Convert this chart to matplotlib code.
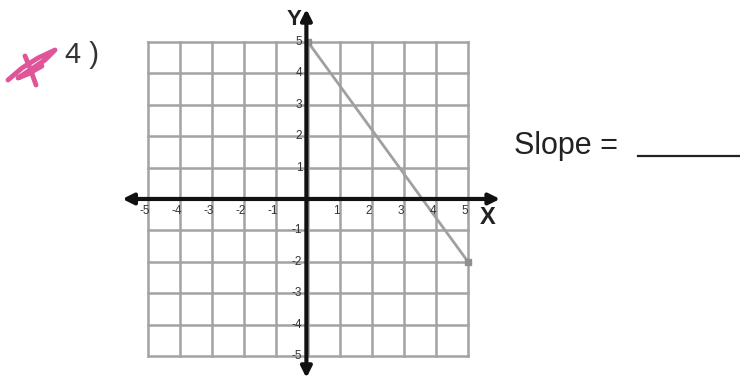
import matplotlib
matplotlib.use("Agg")
from matplotlib import pyplot as plt
import numpy as np

plt.rcParams['font.family'] = ['Liberation Sans', 'DejaVu Sans']

# grid and line data
grid_vals = np.arange(-5, 6)
tick_labels = [-5, -4, -3, -2, -1, 1, 2, 3, 4, 5]
line_x = [0, 5]
line_y = [5, -2]

W, H = 740, 381
fig = plt.figure(figsize=(W / 100, H / 100), dpi=100)
ax = fig.add_axes([0, 0, 1, 1])
ax.set_xlim(-9.625, 13.5)
ax.set_ylim(-5.80, 6.34)
ax.axis("off")

grid_color = "#a3a3a3"
for v in grid_vals:
    ax.plot([v, v], [-5, 5], color=grid_color, lw=1.8, zorder=1)
    ax.plot([-5, 5], [v, v], color=grid_color, lw=1.8, zorder=1)

# axes with arrows
ax.annotate("", xy=(6.0, 0), xytext=(-5.8, 0),
            arrowprops=dict(arrowstyle="<|-|>", color="#111111", lw=3,
                            mutation_scale=16, shrinkA=0, shrinkB=0), zorder=3)
ax.annotate("", xy=(-0.05, 6.05), xytext=(-0.05, -5.7),
            arrowprops=dict(arrowstyle="<|-|>", color="#111111", lw=3,
                            mutation_scale=16, shrinkA=0, shrinkB=0), zorder=3)

for t in tick_labels:
    ax.text(t - 0.1, -0.2, str(t), ha="center", va="top", fontsize=8.5,
            color="#333333", zorder=4)
    ax.text(-0.18, t, str(t), ha="right", va="center", fontsize=8.5,
            color="#333333", zorder=4)

ax.text(5.6, -0.6, "X", ha="center", va="center", fontsize=17,
        fontweight="bold", color="#222222")
ax.text(-0.45, 5.72, "Y", ha="center", va="center", fontsize=16,
        fontweight="bold", color="#222222")

# the plotted line
ax.plot(line_x, line_y, color="#a0a0a0", lw=2, marker="s", markersize=4,
        markerfacecolor="#909090", markeredgecolor="#909090", zorder=2)

# worksheet text
fig.text(0.088, 0.855, "4 )", fontsize=21, color="#333333", ha="left", va="center")
fig.text(0.695, 0.617, "Slope =", fontsize=22, color="#222222", ha="left", va="center")
fig.lines.append(plt.Line2D([0.862, 1.0], [0.59, 0.59], color="#222222", lw=1.6,
                            transform=fig.transFigure))

# pink check mark scribble (pixel coordinates)
s1x = np.array([8, 22, 38, 55, 45, 30, 18, 28, 42])
s1y = np.array([80, 68, 58, 50, 60, 70, 78, 74, 66])
s2x = np.array([25, 30, 36])
s2y = np.array([56, 68, 85])
for sx, sy in [(s1x, s1y), (s2x, s2y)]:
    fig.lines.append(plt.Line2D(sx / W, 1 - sy / H, color="#e0559a", lw=3.5,
                                transform=fig.transFigure, solid_capstyle="round",
                                solid_joinstyle="round"))

fig.savefig("out.png", dpi=100)
